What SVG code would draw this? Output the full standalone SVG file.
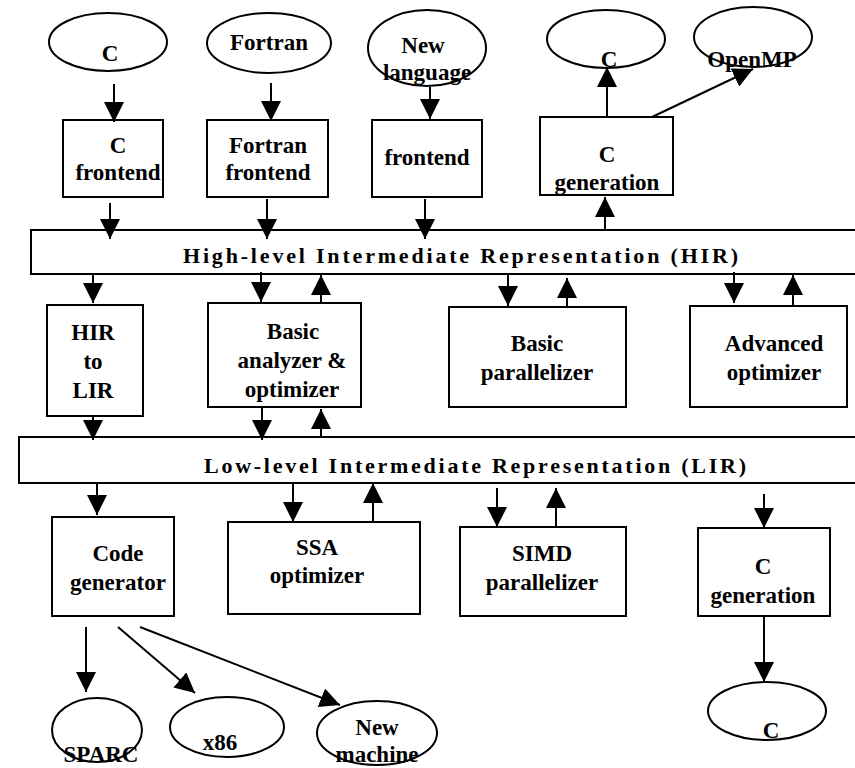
<svg xmlns="http://www.w3.org/2000/svg" width="855" height="768" viewBox="0 0 855 768">
<style>
.n{fill:#fff;stroke:#000;stroke-width:2}
.t{font-family:"Liberation Serif","Times New Roman",serif;font-weight:bold;font-size:23px;text-anchor:middle;fill:#000}
.b{font-family:"Liberation Serif","Times New Roman",serif;font-weight:bold;font-size:22px;fill:#000}
.c line{stroke:#000;stroke-width:2;marker-end:url(#ah)}
</style>
<defs>
<marker id="ah" viewBox="0 0 20 20" refX="20" refY="10" markerWidth="20" markerHeight="20" markerUnits="userSpaceOnUse" orient="auto">
<path d="M0,0 L20,10 L0,20 z" fill="#000"/>
</marker>
</defs>
<rect width="855" height="768" fill="#fff"/>

<g id="hir"><rect class="n" x="31" y="230" width="830" height="44"/><text class="b" x="183" y="263" textLength="555" lengthAdjust="spacing">High-level Intermediate Representation (HIR)</text></g>
<g id="lir"><rect class="n" x="19" y="437" width="842" height="46"/><text class="b" x="204" y="473" textLength="542" lengthAdjust="spacing">Low-level Intermediate Representation (LIR)</text></g>

<g id="c_in"><ellipse class="n" cx="108" cy="42" rx="59" ry="29"/><text class="t" x="110" y="61">C</text></g>
<g id="fortran_in"><ellipse class="n" cx="269" cy="43" rx="62" ry="30"/><text class="t" x="269" y="50">Fortran</text></g>
<g id="newlang_in"><ellipse class="n" cx="427" cy="48" rx="59" ry="38"/><text class="t" x="423" y="53">New</text><text class="t" x="427" y="80">language</text></g>
<g id="c_out_top"><ellipse class="n" cx="606" cy="39" rx="59" ry="29"/><text class="t" x="609" y="67">C</text></g>
<g id="openmp_out"><ellipse class="n" cx="753" cy="37" rx="59" ry="30"/><text class="t" x="752" y="67">OpenMP</text></g>

<g id="c_frontend"><rect class="n" x="63" y="120" width="100" height="77"/><text class="t" x="118" y="153">C</text><text class="t" x="118" y="180">frontend</text></g>
<g id="fortran_frontend"><rect class="n" x="207" y="120" width="121" height="77"/><text class="t" x="268" y="153">Fortran</text><text class="t" x="268" y="180">frontend</text></g>
<g id="new_frontend"><rect class="n" x="372" y="120" width="110" height="77"/><text class="t" x="427" y="165">frontend</text></g>
<g id="c_generation_top"><rect class="n" x="540" y="117" width="133" height="78"/><text class="t" x="607" y="162">C</text><text class="t" x="607" y="190">generation</text></g>

<g id="hir_to_lir"><rect class="n" x="47" y="305" width="96" height="111"/><text class="t" x="93" y="340">HIR</text><text class="t" x="93" y="369">to</text><text class="t" x="93" y="398">LIR</text></g>
<g id="basic_analyzer"><rect class="n" x="208" y="303" width="153" height="104"/><text class="t" x="293" y="339">Basic</text><text class="t" x="292" y="368">analyzer &amp;</text><text class="t" x="292" y="397">optimizer</text></g>
<g id="basic_parallelizer"><rect class="n" x="449" y="307" width="177" height="100"/><text class="t" x="537" y="351">Basic</text><text class="t" x="537" y="380">parallelizer</text></g>
<g id="advanced_optimizer"><rect class="n" x="690" y="306" width="157" height="101"/><text class="t" x="774" y="351">Advanced</text><text class="t" x="774" y="380">optimizer</text></g>

<g id="code_generator"><rect class="n" x="52" y="517" width="122" height="99"/><text class="t" x="118" y="561">Code</text><text class="t" x="118" y="590">generator</text></g>
<g id="ssa_optimizer"><rect class="n" x="228" y="522" width="192" height="92"/><text class="t" x="317" y="555">SSA</text><text class="t" x="317" y="583">optimizer</text></g>
<g id="simd_parallelizer"><rect class="n" x="460" y="527" width="166" height="89"/><text class="t" x="542" y="561">SIMD</text><text class="t" x="542" y="590">parallelizer</text></g>
<g id="c_generation_bottom"><rect class="n" x="698" y="528" width="132" height="88"/><text class="t" x="763" y="574">C</text><text class="t" x="763" y="603">generation</text></g>

<g id="sparc_out"><ellipse class="n" cx="97" cy="730" rx="45" ry="32"/><text class="t" x="101" y="762">SPARC</text></g>
<g id="x86_out"><ellipse class="n" cx="227" cy="727" rx="57" ry="30"/><text class="t" x="220" y="750">x86</text></g>
<g id="newmachine_out"><ellipse class="n" cx="377" cy="733" rx="60" ry="32"/><text class="t" x="377" y="735">New</text><text class="t" x="377" y="762">machine</text></g>
<g id="c_out_bottom"><ellipse class="n" cx="767" cy="711" rx="59" ry="29"/><text class="t" x="771" y="738">C</text></g>

<g id="connectors" class="c">
<line x1="114" y1="84" x2="114" y2="122"/>
<line x1="271" y1="83" x2="271" y2="121"/>
<line x1="430" y1="87" x2="430" y2="119"/>
<line x1="607" y1="117" x2="607" y2="67"/>
<line x1="652" y1="117" x2="753" y2="69"/>
<line x1="110" y1="203" x2="110" y2="239"/>
<line x1="267" y1="199" x2="267" y2="239"/>
<line x1="425" y1="199" x2="425" y2="239"/>
<line x1="605" y1="230" x2="605" y2="197"/>
<line x1="93" y1="274" x2="93" y2="303"/>
<line x1="261" y1="272" x2="261" y2="302"/>
<line x1="321" y1="303" x2="321" y2="275"/>
<line x1="508" y1="274" x2="508" y2="306"/>
<line x1="567" y1="307" x2="567" y2="278"/>
<line x1="734" y1="272" x2="734" y2="303"/>
<line x1="793" y1="306" x2="793" y2="275"/>
<line x1="93" y1="416" x2="93" y2="440"/>
<line x1="262" y1="408" x2="262" y2="440"/>
<line x1="321" y1="437" x2="321" y2="409"/>
<line x1="97" y1="483" x2="97" y2="515"/>
<line x1="293" y1="483" x2="293" y2="522"/>
<line x1="373" y1="522" x2="373" y2="483"/>
<line x1="497" y1="488" x2="497" y2="527"/>
<line x1="556" y1="527" x2="556" y2="488"/>
<line x1="764" y1="494" x2="764" y2="528"/>
<line x1="764" y1="616" x2="764" y2="682"/>
<line x1="86" y1="627" x2="86" y2="692"/>
<line x1="118" y1="627" x2="195" y2="693"/>
<line x1="140" y1="627" x2="340" y2="705"/>
</g>
</svg>
